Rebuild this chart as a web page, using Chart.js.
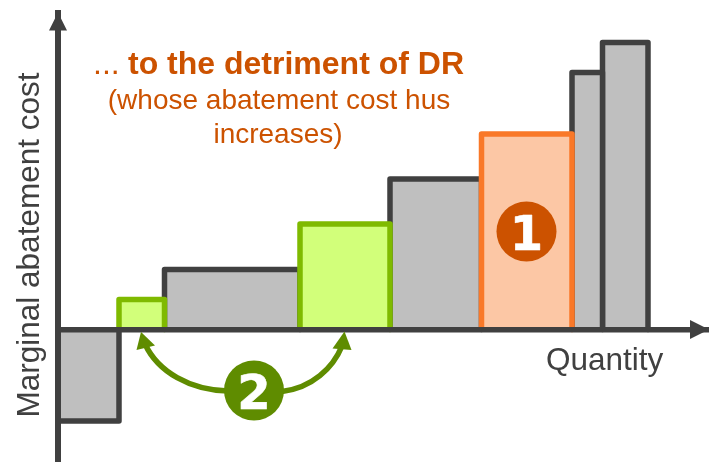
<!DOCTYPE html>
<html>
<head>
<meta charset="utf-8">
<style>html,body{margin:0;padding:0;background:#fff}#w{width:709px;height:462px;position:relative}</style>
<script src="https://cdn.jsdelivr.net/npm/chart.js@4"></script>
</head>
<body>
<div id="w"><canvas id="c" width="709" height="462"></canvas></div>
<script>
const quantityEdges = [0, 61, 106.5, 242, 332, 423.5, 514, 544.5, 590];
const costs = [-91.5, 30, 60, 105.5, 150.5, 195.5, 257, 287];
const kinds = ['other', 'dr', 'other', 'dr', 'other', 'up', 'other', 'other'];
const xTitle = 'Quantity';
const yTitle = 'Marginal abatement cost';

const DARK = '#404040', GREY = '#BFBFBF', TXT = '#CC5200', BADGE_G = '#5F8C00';
const styles = {
  other: {stroke: DARK, fill: GREY, order: 2},
  dr: {stroke: '#7FBA00', fill: '#D2FF7A', order: 1},
  up: {stroke: '#F97828', fill: '#FCC7A5', order: 0}
};
const datasets = costs.map((v, i) => ({
  label: 'Bar ' + (i + 1),
  data: [
    {x: quantityEdges[i], y: 0},
    {x: quantityEdges[i], y: v},
    {x: quantityEdges[i + 1], y: v},
    {x: quantityEdges[i + 1], y: 0}
  ],
  showLine: true,
  tension: 0,
  fill: 'origin',
  clip: false,
  pointRadius: 0,
  borderWidth: 5.5,
  borderJoinStyle: 'round',
  borderColor: styles[kinds[i]].stroke,
  backgroundColor: styles[kinds[i]].fill,
  order: styles[kinds[i]].order
}));

function head(ctx, tip, a, b, col) {
  ctx.fillStyle = col;
  ctx.beginPath();
  ctx.moveTo(tip[0], tip[1]);
  ctx.lineTo(a[0], a[1]);
  ctx.lineTo(b[0], b[1]);
  ctx.closePath();
  ctx.fill();
}
function badge(ctx, x, y, col, t) {
  ctx.fillStyle = col;
  ctx.beginPath();
  ctx.arc(x, y, 30, 0, Math.PI * 2);
  ctx.fill();
  ctx.fillStyle = '#fff';
  ctx.strokeStyle = '#fff';
  ctx.lineWidth = 0.6;
  ctx.lineJoin = 'round';
  ctx.font = 'bold 48px "DejaVu Sans"';
  ctx.textAlign = 'center';
  ctx.textBaseline = 'alphabetic';
  ctx.fillText(t, x, y + 18.5);
  ctx.strokeText(t, x, y + 18.5);
}
const overlay = {
  id: 'overlay',
  afterDraw(chart) {
    const ctx = chart.ctx;
    ctx.save();
    head(ctx, [58, 12.5], [49, 30.5], [67, 30.5], DARK);
    head(ctx, [709, 329.5], [690, 320], [690, 339], DARK);

    ctx.strokeStyle = BADGE_G;
    ctx.lineWidth = 5.5;
    ctx.beginPath();
    ctx.moveTo(228, 391);
    ctx.bezierCurveTo(190, 390, 158, 372, 145, 344);
    ctx.moveTo(282, 391.5);
    ctx.bezierCurveTo(312, 388, 333, 368, 342, 346);
    ctx.stroke();
    head(ctx, [141, 332], [136.5, 350], [155, 345.5], BADGE_G);
    head(ctx, [344.5, 331.5], [332.5, 348.5], [351.5, 350], BADGE_G);
    badge(ctx, 254, 390.5, BADGE_G, '2');
    badge(ctx, 526.5, 231.5, TXT, '1');

    ctx.fillStyle = TXT;
    ctx.textBaseline = 'alphabetic';
    ctx.textAlign = 'left';
    ctx.font = '32px "Liberation Sans"';
    ctx.fillText('...', 93, 74);
    ctx.font = 'bold 32px "Liberation Sans"';
    ctx.fillText('to the detriment of DR', 128, 74);
    ctx.textAlign = 'center';
    ctx.font = '28px "Liberation Sans"';
    ctx.fillText('(whose abatement cost hus', 279, 109);
    ctx.fillText('increases)', 278, 143);

    ctx.fillStyle = DARK;
    ctx.font = '31.5px "Liberation Sans"';
    ctx.textAlign = 'left';
    ctx.fillText(xTitle, 546, 370);
    ctx.translate(38.5, 245);
    ctx.rotate(-Math.PI / 2);
    ctx.textAlign = 'center';
    ctx.fillText(yTitle, 0, 0);
    ctx.restore();
  }
};
const fitZero = s => { if (s.isHorizontal()) s.height = 0; else s.width = 0; };
new Chart(document.getElementById('c'), {
  type: 'scatter',
  data: {datasets},
  plugins: [overlay],
  options: {
    responsive: false,
    animation: false,
    events: [],
    layout: {padding: {left: 58, top: 13, right: 1, bottom: 0}},
    plugins: {legend: {display: false}, title: {display: false}, tooltip: {enabled: false}},
    scales: {
      x: {
        type: 'linear', min: 0, max: 650, position: {y: 0},
        afterFit: fitZero,
        grid: {display: false},
        border: {color: DARK, width: 5.5, z: 1},
        ticks: {display: false}
      },
      y: {
        type: 'linear', min: -132.5, max: 316.5, position: 'left',
        afterFit: fitZero,
        grid: {display: false},
        border: {color: DARK, width: 6, z: 1},
        ticks: {display: false}
      }
    }
  }
});
</script>
</body>
</html>
